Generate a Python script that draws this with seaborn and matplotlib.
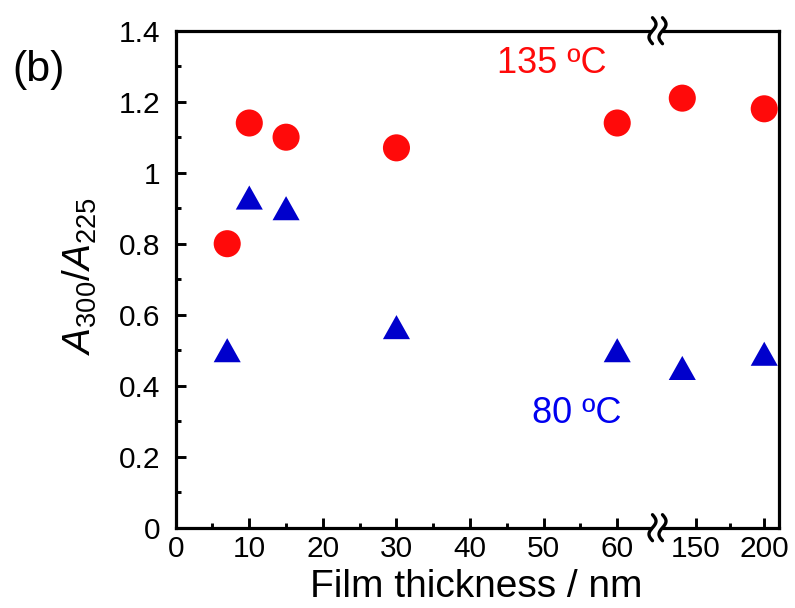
import numpy as np
import pandas as pd
import matplotlib
matplotlib.use('Agg')
import matplotlib.pyplot as plt
import seaborn as sns
from matplotlib.path import Path
from matplotlib.lines import Line2D
from matplotlib.patches import Rectangle
from matplotlib.ticker import FixedLocator

# ---- data ----
thickness = [7, 10, 15, 30, 60, 140, 200]
ratio_135 = [0.80, 1.14, 1.10, 1.07, 1.14, 1.21, 1.18]
ratio_80 = [0.50, 0.93, 0.90, 0.565, 0.50, 0.45, 0.49]
series_labels = ['135 ºC', '80 ºC']
left_ticks = [0, 10, 20, 30, 40, 50, 60]
left_minor = [5, 15, 25, 35, 45, 55]
right_ticks = [150, 200]
right_minor = [175]
y_ticks = [0, 0.2, 0.4, 0.6, 0.8, 1.0, 1.2, 1.4]
y_tick_labels = ['0', '0.2', '0.4', '0.6', '0.8', '1', '1.2', '1.4']

sns.set_style('white')
plt.rcParams['font.family'] = ['Liberation Sans', 'DejaVu Sans']
plt.rcParams['mathtext.fontset'] = 'custom'
plt.rcParams['mathtext.rm'] = 'Liberation Sans'
plt.rcParams['mathtext.it'] = 'Liberation Sans:italic'
plt.rcParams['mathtext.bf'] = 'Liberation Sans:bold'
for k in ['text.color', 'axes.labelcolor', 'xtick.color', 'ytick.color',
          'axes.edgecolor']:
    plt.rcParams[k] = 'black'

RED = '#FF0A0A'
BLUE = '#0000CC'

df = pd.DataFrame({
    'thickness': thickness * 2,
    'ratio': ratio_135 + ratio_80,
    'T': [series_labels[0]] * len(thickness) + [series_labels[1]] * len(thickness),
})

tri = Path([(0, 0.89), (-1, -0.89), (1, -0.89), (0, 0.89)],
           [Path.MOVETO, Path.LINETO, Path.LINETO, Path.CLOSEPOLY])

W, H = 795, 608
fig = plt.figure(figsize=(W / 100, H / 100), dpi=100)

def fx(px):
    return px / W

def fy(py):
    return 1 - py / H

L, R, T, B, J = 175.7, 779.0, 30.7, 527.7, 657.7
ax1 = fig.add_axes([fx(L), fy(B), (J - L) / W, (B - T) / H])
ax2 = fig.add_axes([fx(J), fy(B), (R - J) / W, (B - T) / H], sharey=ax1)

palette = {series_labels[0]: RED, series_labels[1]: BLUE}
markers = {series_labels[0]: 'o', series_labels[1]: tri}

for ax, lo, hi in [(ax1, 0, 65.5), (ax2, 122, 210.8)]:
    sub = df[(df['thickness'] >= lo) & (df['thickness'] <= hi)]
    sns.scatterplot(data=sub, x='thickness', y='ratio', hue='T', style='T',
                    palette=palette, markers=markers, s=380, linewidth=0,
                    edgecolor='none', legend=False, ax=ax, clip_on=False, zorder=3)
    ax.set_xlim(lo, hi)
    ax.set_xlabel('')
    ax.set_ylabel('')
    for sp in ax.spines.values():
        sp.set_linewidth(2.3)
        sp.set_color('black')
    ax.tick_params(which='major', direction='in', length=7.5, width=2.1,
                   labelsize=21.5, colors='black')
    ax.tick_params(which='minor', direction='in', length=3.8, width=2.1)
    ax.tick_params(axis='x', which='both', top=False, pad=5)

ax1.set_ylim(0, 1.4)
ax1.set_yticks(y_ticks)
ax1.set_yticklabels(y_tick_labels)
ax1.yaxis.set_minor_locator(FixedLocator(np.arange(0.1, 1.4, 0.2)))
ax1.tick_params(axis='y', which='both', left=True, right=False, pad=11)
ax1.set_xticks(left_ticks)
ax1.xaxis.set_minor_locator(FixedLocator(left_minor))
ax1.tick_params(axis='x', which='both', bottom=True)
ax1.spines['right'].set_visible(False)

ax2.set_xticks(right_ticks)
ax2.xaxis.set_minor_locator(FixedLocator(right_minor))
ax2.tick_params(axis='x', which='both', bottom=True)
ax2.tick_params(axis='y', which='both', left=False, right=False, labelleft=False)
ax2.spines['left'].set_visible(False)

ax1.set_ylabel(r'$\mathit{A}_{300}/\mathit{A}_{225}$', fontsize=28)
ax1.yaxis.set_label_coords((99 - L) / (J - L), 0.505)

fig.text(fx(476.5), fy(596.7), 'Film thickness / nm', fontsize=28,
         ha='center', va='baseline')
fig.text(fx(497), fy(72.7), series_labels[0], fontsize=26, color=RED,
         ha='left', va='baseline')
fig.text(fx(532), fy(422.7), series_labels[1], fontsize=26, color='#0000F0',
         ha='left', va='baseline')
fig.text(fx(12), fy(81), '(b)', fontsize=31, ha='left', va='baseline')

# axis-break marks
for yc in (T, B):
    fig.add_artist(Rectangle((fx(652.5), fy(yc + 4)), 10 / W, 8 / H,
                             transform=fig.transFigure, facecolor='white',
                             edgecolor='none', zorder=10))
    t = np.linspace(-1, 1, 40)
    for xc in (652.5, 662.5):
        xs = xc + 3.5 * np.sin(np.pi * t)
        ys = yc - 13 * t
        fig.add_artist(Line2D(fx(xs), fy(ys), transform=fig.transFigure,
                              color='black', lw=2.4, zorder=11,
                              solid_capstyle='round'))

fig.savefig('out.png', dpi=100)
